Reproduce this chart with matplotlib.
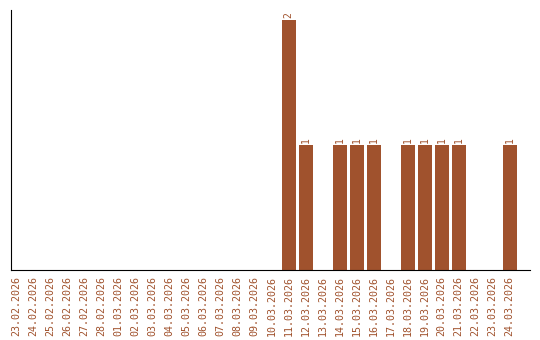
import matplotlib
matplotlib.use("Agg")
import matplotlib.pyplot as plt

dates = ["23.02.2026", "24.02.2026", "25.02.2026", "26.02.2026", "27.02.2026",
         "28.02.2026", "01.03.2026", "02.03.2026", "03.03.2026", "04.03.2026",
         "05.03.2026", "06.03.2026", "07.03.2026", "08.03.2026", "09.03.2026",
         "10.03.2026", "11.03.2026", "12.03.2026", "13.03.2026", "14.03.2026",
         "15.03.2026", "16.03.2026", "17.03.2026", "18.03.2026", "19.03.2026",
         "20.03.2026", "21.03.2026", "22.03.2026", "23.03.2026", "24.03.2026"]
counts = [0, 0, 0, 0, 0, 0, 0, 0, 0, 0, 0, 0, 0, 0, 0, 0,
          2, 1, 0, 1, 1, 1, 0, 1, 1, 1, 1, 0, 0, 1]

color = "#A0522D"

fig = plt.figure(figsize=(5.4, 3.4), dpi=100)
ax = fig.add_axes([0.02, 0.206, 0.961, 0.764])
x = range(len(dates))
ax.bar(x, counts, width=0.82, color=color)
for xi, v in zip(x, counts):
    if v > 0:
        ax.text(xi, v + 0.02, str(v), rotation=90, ha="center", va="bottom",
                fontsize=7, color=color, family="DejaVu Sans Mono")

ax.set_xlim(-0.35, len(dates) - 1 + 1.18)
ax.set_ylim(0, 2.08)
ax.set_xticks(list(x))
ax.set_xticklabels(dates, rotation=90, fontsize=7.2, color=color, family="DejaVu Sans Mono")
ax.tick_params(axis="x", length=0, pad=4.5)
ax.set_yticks([])
ax.spines["top"].set_visible(False)
ax.spines["right"].set_visible(False)

fig.savefig("out.png", dpi=100)
